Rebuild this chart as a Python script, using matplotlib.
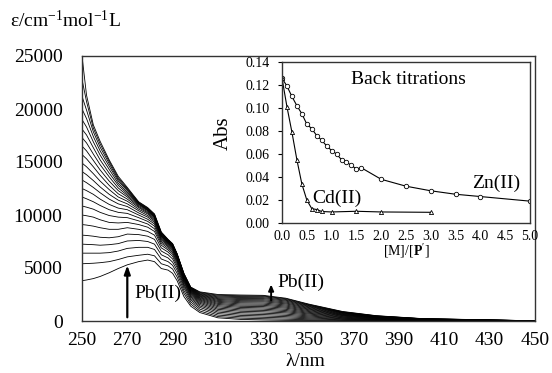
import numpy as np
import matplotlib
matplotlib.use("Agg")
import matplotlib.pyplot as plt

plt.rcParams['font.family'] = ['Liberation Serif', 'DejaVu Serif']
plt.rcParams['mathtext.fontset'] = 'custom'
plt.rcParams['mathtext.rm'] = 'Liberation Serif'
plt.rcParams['mathtext.bf'] = 'Liberation Serif:bold'
plt.rcParams['mathtext.it'] = 'Liberation Serif:italic'
plt.rcParams['mathtext.default'] = 'regular'

# ---------------- main spectra data (epsilon per curve at each wavelength) -------------
wavelengths = [250, 252, 255, 258, 262, 266, 270, 275, 279, 282, 285, 288, 290,
               292, 295, 298, 302, 310, 320, 330, 340, 350, 365, 380, 400, 450]

eps_250 = [3800, 5400, 6400, 7250, 8100, 9100, 10000, 10850, 11700, 12500, 13300, 14100, 14900, 15700, 16500, 17300, 18100, 19000, 20000, 21200, 22800, 25000]
eps_252 = [3870, 5420, 6400, 7230, 8070, 9050, 9930, 10740, 11530, 12300, 13050, 13800, 14550, 15300, 16050, 16800, 17550, 18300, 19100, 19900, 20700, 21300]
eps_255 = [4000, 5450, 6400, 7200, 8000, 8950, 9800, 10550, 11250, 11950, 12600, 13250, 13900, 14550, 15150, 15750, 16350, 16900, 17400, 17850, 18200, 18500]
eps_258 = [4200, 5500, 6400, 7150, 7900, 8800, 9550, 10250, 10900, 11500, 12100, 12650, 13200, 13750, 14250, 14750, 15200, 15650, 16050, 16400, 16700, 16950]
eps_262 = [4550, 5600, 6450, 7200, 7850, 8650, 9300, 9950, 10500, 11000, 11500, 11950, 12400, 12800, 13200, 13600, 13950, 14300, 14600, 14850, 15050, 15200]
eps_266 = [4950, 5800, 6600, 7300, 7950, 8650, 9250, 9800, 10250, 10650, 11050, 11400, 11700, 12000, 12300, 12550, 12800, 13000, 13200, 13350, 13500, 13650]
eps_270 = [5300, 6050, 6850, 7550, 8200, 8800, 9300, 9750, 10150, 10500, 10800, 11050, 11300, 11500, 11700, 11850, 12000, 12150, 12300, 12400, 12500, 12600]
eps_275 = [5600, 6200, 6950, 7600, 8150, 8650, 9100, 9450, 9750, 10000, 10200, 10400, 10550, 10700, 10800, 10900, 11000, 11050, 11100, 11150, 11200, 11250]
eps_279 = [5750, 6300, 6950, 7500, 8000, 8450, 8850, 9150, 9400, 9600, 9800, 9950, 10100, 10200, 10300, 10400, 10450, 10500, 10550, 10600, 10650, 10700]
eps_282 = [5600, 6150, 6750, 7250, 7700, 8100, 8450, 8700, 8950, 9150, 9300, 9450, 9550, 9650, 9750, 9800, 9850, 9900, 9950, 10000, 10050, 10100]
eps_285 = [4950, 5400, 5850, 6250, 6600, 6900, 7150, 7350, 7500, 7650, 7750, 7850, 7950, 8000, 8050, 8100, 8150, 8200, 8250, 8300, 8350, 8400]
eps_288 = [4800, 5200, 5600, 5950, 6250, 6500, 6700, 6850, 7000, 7100, 7200, 7280, 7350, 7400, 7450, 7500, 7550, 7580, 7610, 7640, 7670, 7700]
eps_290 = [4500, 4900, 5250, 5550, 5850, 6100, 6300, 6450, 6600, 6700, 6800, 6880, 6950, 7000, 7050, 7100, 7150, 7180, 7210, 7240, 7270, 7300]
eps_292 = [3800, 4150, 4500, 4800, 5050, 5250, 5450, 5600, 5720, 5820, 5900, 5980, 6050, 6100, 6150, 6200, 6230, 6260, 6280, 6300, 6320, 6340]
eps_295 = [2300, 2600, 2850, 3100, 3300, 3450, 3600, 3720, 3830, 3920, 4000, 4070, 4130, 4180, 4230, 4280, 4320, 4360, 4400, 4430, 4460, 4500]
eps_298 = [1400, 1600, 1800, 1980, 2130, 2270, 2390, 2500, 2590, 2670, 2740, 2800, 2860, 2910, 2960, 3000, 3040, 3080, 3110, 3140, 3170, 3200]
eps_302 = [800, 950, 1120, 1280, 1420, 1550, 1670, 1780, 1880, 1970, 2050, 2130, 2200, 2270, 2340, 2400, 2460, 2520, 2580, 2640, 2700, 2750]
eps_310 = [300, 420, 560, 700, 840, 970, 1100, 1220, 1340, 1450, 1560, 1660, 1760, 1850, 1940, 2030, 2110, 2190, 2270, 2350, 2430, 2500]
eps_320 = [150, 270, 400, 530, 660, 790, 920, 1040, 1160, 1280, 1390, 1500, 1610, 1720, 1820, 1920, 2020, 2120, 2210, 2300, 2380, 2450]
eps_330 = [100, 220, 350, 480, 610, 740, 870, 1000, 1120, 1240, 1360, 1480, 1590, 1700, 1810, 1910, 2010, 2110, 2200, 2290, 2360, 2420]
eps_340 = [60, 170, 290, 410, 530, 650, 770, 880, 990, 1100, 1210, 1310, 1410, 1510, 1610, 1700, 1790, 1880, 1960, 2030, 2100, 2150]
eps_350 = [40, 120, 210, 300, 390, 480, 570, 660, 740, 820, 900, 980, 1060, 1130, 1200, 1270, 1340, 1400, 1460, 1510, 1560, 1600]
eps_365 = [20, 60, 110, 160, 210, 260, 310, 360, 410, 460, 510, 550, 590, 630, 670, 710, 750, 780, 810, 840, 870, 900]
eps_380 = [10, 30, 60, 90, 120, 150, 180, 210, 240, 265, 290, 315, 340, 360, 380, 400, 420, 440, 455, 470, 485, 500]
eps_400 = [0, 10, 25, 40, 55, 70, 85, 100, 110, 120, 130, 140, 150, 160, 170, 180, 190, 200, 210, 215, 220, 230]
eps_450 = [0, 0, 0, 0, 0, 0, 0, 5, 5, 5, 5, 10, 10, 10, 10, 10, 15, 15, 15, 20, 20, 20]

eps_rows = [eps_250, eps_252, eps_255, eps_258, eps_262, eps_266, eps_270, eps_275,
            eps_279, eps_282, eps_285, eps_288, eps_290, eps_292, eps_295, eps_298,
            eps_302, eps_310, eps_320, eps_330, eps_340, eps_350, eps_365, eps_380,
            eps_400, eps_450]
spectra = np.array(eps_rows).T   # one row per curve

# ---------------- inset (back titrations) data -------------
zn_ratio = [0.0, 0.1, 0.2, 0.3, 0.4, 0.5, 0.6, 0.7, 0.8, 0.9, 1.0, 1.1, 1.2, 1.3,
            1.4, 1.5, 1.6, 2.0, 2.5, 3.0, 3.5, 4.0, 5.0]
zn_abs = [0.126, 0.119, 0.110, 0.102, 0.095, 0.086, 0.082, 0.076, 0.072, 0.067,
          0.063, 0.060, 0.055, 0.053, 0.050, 0.047, 0.048, 0.038, 0.032, 0.028,
          0.025, 0.023, 0.019]
cd_ratio = [0.0, 0.1, 0.2, 0.3, 0.4, 0.5, 0.6, 0.7, 0.8, 1.0, 1.5, 2.0, 3.0]
cd_abs = [0.126, 0.101, 0.079, 0.055, 0.034, 0.020, 0.0125, 0.0117, 0.010,
          0.0096, 0.0102, 0.0096, 0.0093]

x_ticks = list(range(250, 451, 20))
y_ticks = list(range(0, 25001, 5000))
inset_x_ticks = [0.0, 0.5, 1.0, 1.5, 2.0, 2.5, 3.0, 3.5, 4.0, 4.5, 5.0]
inset_y_ticks = [0.00, 0.02, 0.04, 0.06, 0.08, 0.10, 0.12, 0.14]

W, H = 552, 373
fig = plt.figure(figsize=(W / 100, H / 100), dpi=100)

# main axes
ax = fig.add_axes([82 / W, 1 - 321 / H, (535 - 82) / W, (321 - 56) / H])
for row in spectra:
    ax.plot(wavelengths, row, color='black', lw=0.6)
ax.set_xlim(250, 450)
ax.set_ylim(0, 25000)
ax.set_xticks(x_ticks)
ax.set_yticks(y_ticks)
ax.tick_params(axis='both', length=0, labelsize=14)
ax.tick_params(axis='y', pad=14)
ax.tick_params(axis='x', pad=8)
for s in ax.spines.values():
    s.set_linewidth(1.0)
    s.set_color('#333333')

ax.annotate('', xy=(270, 5250), xytext=(270, 350),
            arrowprops=dict(arrowstyle='-|>,head_length=0.5,head_width=0.18',
                            color='black', lw=1.6, shrinkA=0, shrinkB=0))
ax.text(273.2, 2650, 'Pb(II)', fontsize=14, ha='left', va='center')
ax.annotate('', xy=(333.5, 3450), xytext=(333.5, 1950),
            arrowprops=dict(arrowstyle='-|>,head_length=0.35,head_width=0.15',
                            color='black', lw=1.4, shrinkA=0, shrinkB=0))
ax.text(336.3, 3600, 'Pb(II)', fontsize=14, ha='left', va='center')

fig.text(10 / W, 1 - 20 / H, r'ε/cm$^{-1}$mol$^{-1}$L', fontsize=14,
         ha='left', va='center')
fig.text(305 / W, 1 - 361 / H, 'λ/nm', fontsize=14, ha='center', va='center')

# inset axes
axi = fig.add_axes([282 / W, 1 - 223 / H, (530 - 282) / W, (223 - 62) / H])
axi.plot(zn_ratio, zn_abs, color='black', lw=0.8, marker='o', ms=3.2,
         mfc='white', mec='black', mew=0.6)
axi.plot(cd_ratio, cd_abs, color='black', lw=0.8, marker='^', ms=3.0,
         mfc='white', mec='black', mew=0.6)
axi.set_xlim(0, 5.0)
axi.set_ylim(0, 0.14)
axi.set_xticks(inset_x_ticks)
axi.set_yticks(inset_y_ticks)
axi.set_xticklabels([f'{v:.1f}' for v in inset_x_ticks])
axi.set_yticklabels([f'{v:.2f}' for v in inset_y_ticks])
axi.tick_params(axis='x', length=0, pad=5, labelsize=10)
axi.tick_params(axis='y', length=3, direction='out', pad=6, labelsize=10)
for s in axi.spines.values():
    s.set_linewidth(1.0)
    s.set_color('#333333')
axi.text(2.54, 0.1252, 'Back titrations', fontsize=14, ha='center', va='center')
axi.text(4.31, 0.0348, 'Zn(II)', fontsize=14, ha='center', va='center')
axi.text(1.11, 0.0217, 'Cd(II)', fontsize=14, ha='center', va='center')

fig.text(223 / W, 1 - 133 / H, 'Abs', fontsize=15, rotation=90,
         ha='center', va='center')
fig.text(406 / W, 1 - 251 / H, r'[M]/[$\mathbf{P}^{\prime}$]', fontsize=10,
         ha='center', va='center')

fig.savefig('out.png', dpi=100)
